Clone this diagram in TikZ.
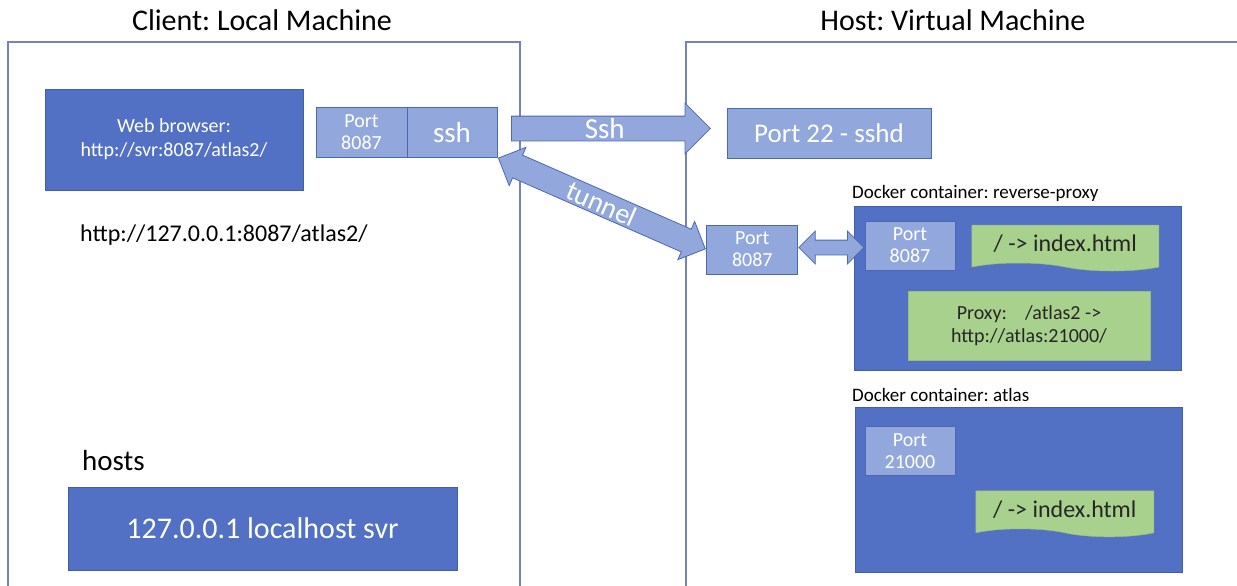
\documentclass[tikz,border=0pt]{standalone}
\usepackage{fontspec}
\setmainfont{Carlito}
\usetikzlibrary{positioning, calc, shapes.arrows, shapes.symbols}

\definecolor{boxblue}{RGB}{82,112,196}
\definecolor{boxedge}{RGB}{64,94,170}
\definecolor{portblue}{RGB}{146,168,220}
\definecolor{portedge}{RGB}{76,104,178}
\definecolor{notegreen}{RGB}{169,209,142}
\definecolor{noteedge}{RGB}{150,190,125}
\definecolor{frameline}{RGB}{116,132,186}
\definecolor{notetext}{RGB}{38,38,38}

% font size in picture pixels
\newcommand{\pxfont}[2]{\fontsize{#1}{#2}\selectfont}
\frenchspacing

\begin{document}
\begin{tikzpicture}[
    % one unit = one pixel of the screen shot
    x=1pt, y=-1pt,
    machine/.style={draw=frameline, line width=1.2pt},
    title/.style={inner sep=0pt, font=\pxfont{30}{36}},
    caption/.style={anchor=west, inner sep=0pt, text=black},
    darkbox/.style={fill=boxblue, draw=boxedge, line width=0.8pt, text=white, align=center, inner sep=0pt},
    portbox/.style={fill=portblue, draw=portedge, line width=0.8pt, outer sep=0pt, text=white, align=center,
        inner sep=0pt, minimum width=90pt, minimum height=49pt, font=\pxfont{20}{22}},
    notebox/.style={tape, tape bend top=none, tape bend bottom=out and in, tape bend height=8pt,
        fill=notegreen, draw=noteedge, line width=0.5pt, text=notetext, inner sep=0pt, font=\pxfont{24}{28}},
    rulebox/.style={fill=notegreen, draw=noteedge, line width=0.5pt, text=notetext, align=center,
        inner sep=0pt, font=\pxfont{20}{23}},
    blockarrow/.style={fill=portblue, draw=portedge, line width=0.8pt, text=white,
        inner xsep=0pt, inner ysep=2pt, text height=20pt, text depth=0pt},
    linkarrow/.style={fill=portblue, draw=portedge, line width=0.8pt,
        inner xsep=0pt, inner ysep=7pt, text height=0pt, text depth=0pt},
]
    \useasboundingbox (0,0) rectangle (1237,586);

    % --- Machine frames ---
    \draw[machine] (8,586) -- (8,42) -- (520,42) -- (520,586);
    \draw[machine] (686,586) -- (686,42) -- (1237,42);
    \node[title] (clienttitle) at (262,20) {Client: Local Machine};
    \node[title] (hosttitle) at (953,20) {Host: Virtual Machine};

    % --- Client side ---
    \node[darkbox, minimum width=258pt, minimum height=101pt, font=\pxfont{20}{24}] (browser) at (174,139.5)
        {Web browser:\\http://svr:8087/atlas2/};
    \node[portbox, minimum width=91pt, minimum height=50pt] (cport) at (361.5,132.5) {Port\\8087};
    \node[portbox, minimum height=50pt, right=0pt of cport, font=\pxfont{29}{29}] (sshbox) {ssh};
    \node[caption, font=\pxfont{24}{28}] (loopurl) at (80,235) {http://127.0.0.1:8087/atlas2/};
    \node[caption, font=\pxfont{29}{34}] (hostsfile) at (82,461) {hosts};
    \node[darkbox, minimum width=389pt, minimum height=83pt, font=\pxfont{30}{36}] (hostsline) at (262.5,528.5)
        {127.0.0.1 localhost svr};

    % --- Host side ---
    \node[portbox, minimum width=204pt, minimum height=50pt, font=\pxfont{27}{30}] (sshd) at (829,133) {Port 22 - sshd};
    \node[portbox, minimum width=91pt] (hport) at (752.3,249.5) {Port\\8087};

    % Docker container: reverse-proxy
    \node[caption, font=\pxfont{19}{22}] (proxylabel) at (852,193) {Docker container: reverse-proxy};
    \node[darkbox, minimum width=327pt, minimum height=164pt] (proxyct) at (1018.3,288.8) {};
    \node[portbox] (pport) at (910,245.5) {Port\\8087};
    \node[notebox, minimum width=187pt, minimum height=46pt] (proxyidx) at (1065.3,244) {/ -> index.html};
    \node[rulebox, minimum width=242pt, minimum height=69pt] (proxyrule) at (1029,325.5)
        {Proxy:\hspace{0.9em}/atlas2 ->\\http://atlas:21000/};

    % Docker container: atlas
    \node[caption, font=\pxfont{19}{22}] (atlaslabel) at (852,395) {Docker container: atlas};
    \node[darkbox, minimum width=327pt, minimum height=165pt] (atlasct) at (1018.5,490.3) {};
    \node[portbox] (aport) at (910,451.3) {Port\\21000};
    \node[notebox, minimum width=178pt, minimum height=46pt] (atlasidx) at (1064.8,509.8) {/ -> index.html};

    % --- Block arrows ---
    \node[blockarrow, single arrow, single arrow head extend=13pt, minimum height=199pt,
        anchor=tail, font=\pxfont{29}{29}] (sshpipe) at ([xshift=14pt, yshift=4pt]sshbox.east) {Ssh};
    \node[blockarrow, double arrow, double arrow head extend=8.5pt, minimum height=226pt,
        rotate=-23.7, font=\pxfont{28}{28}] (tunnelpipe) at ($(sshbox.south east)!0.5!(hport.west)$) {tunnel};
    \node[linkarrow, double arrow, double arrow head extend=9pt, minimum height=65pt]
        (portlink) at ($(hport.east)!0.5!(pport.west)$) {};
\end{tikzpicture}
\end{document}
